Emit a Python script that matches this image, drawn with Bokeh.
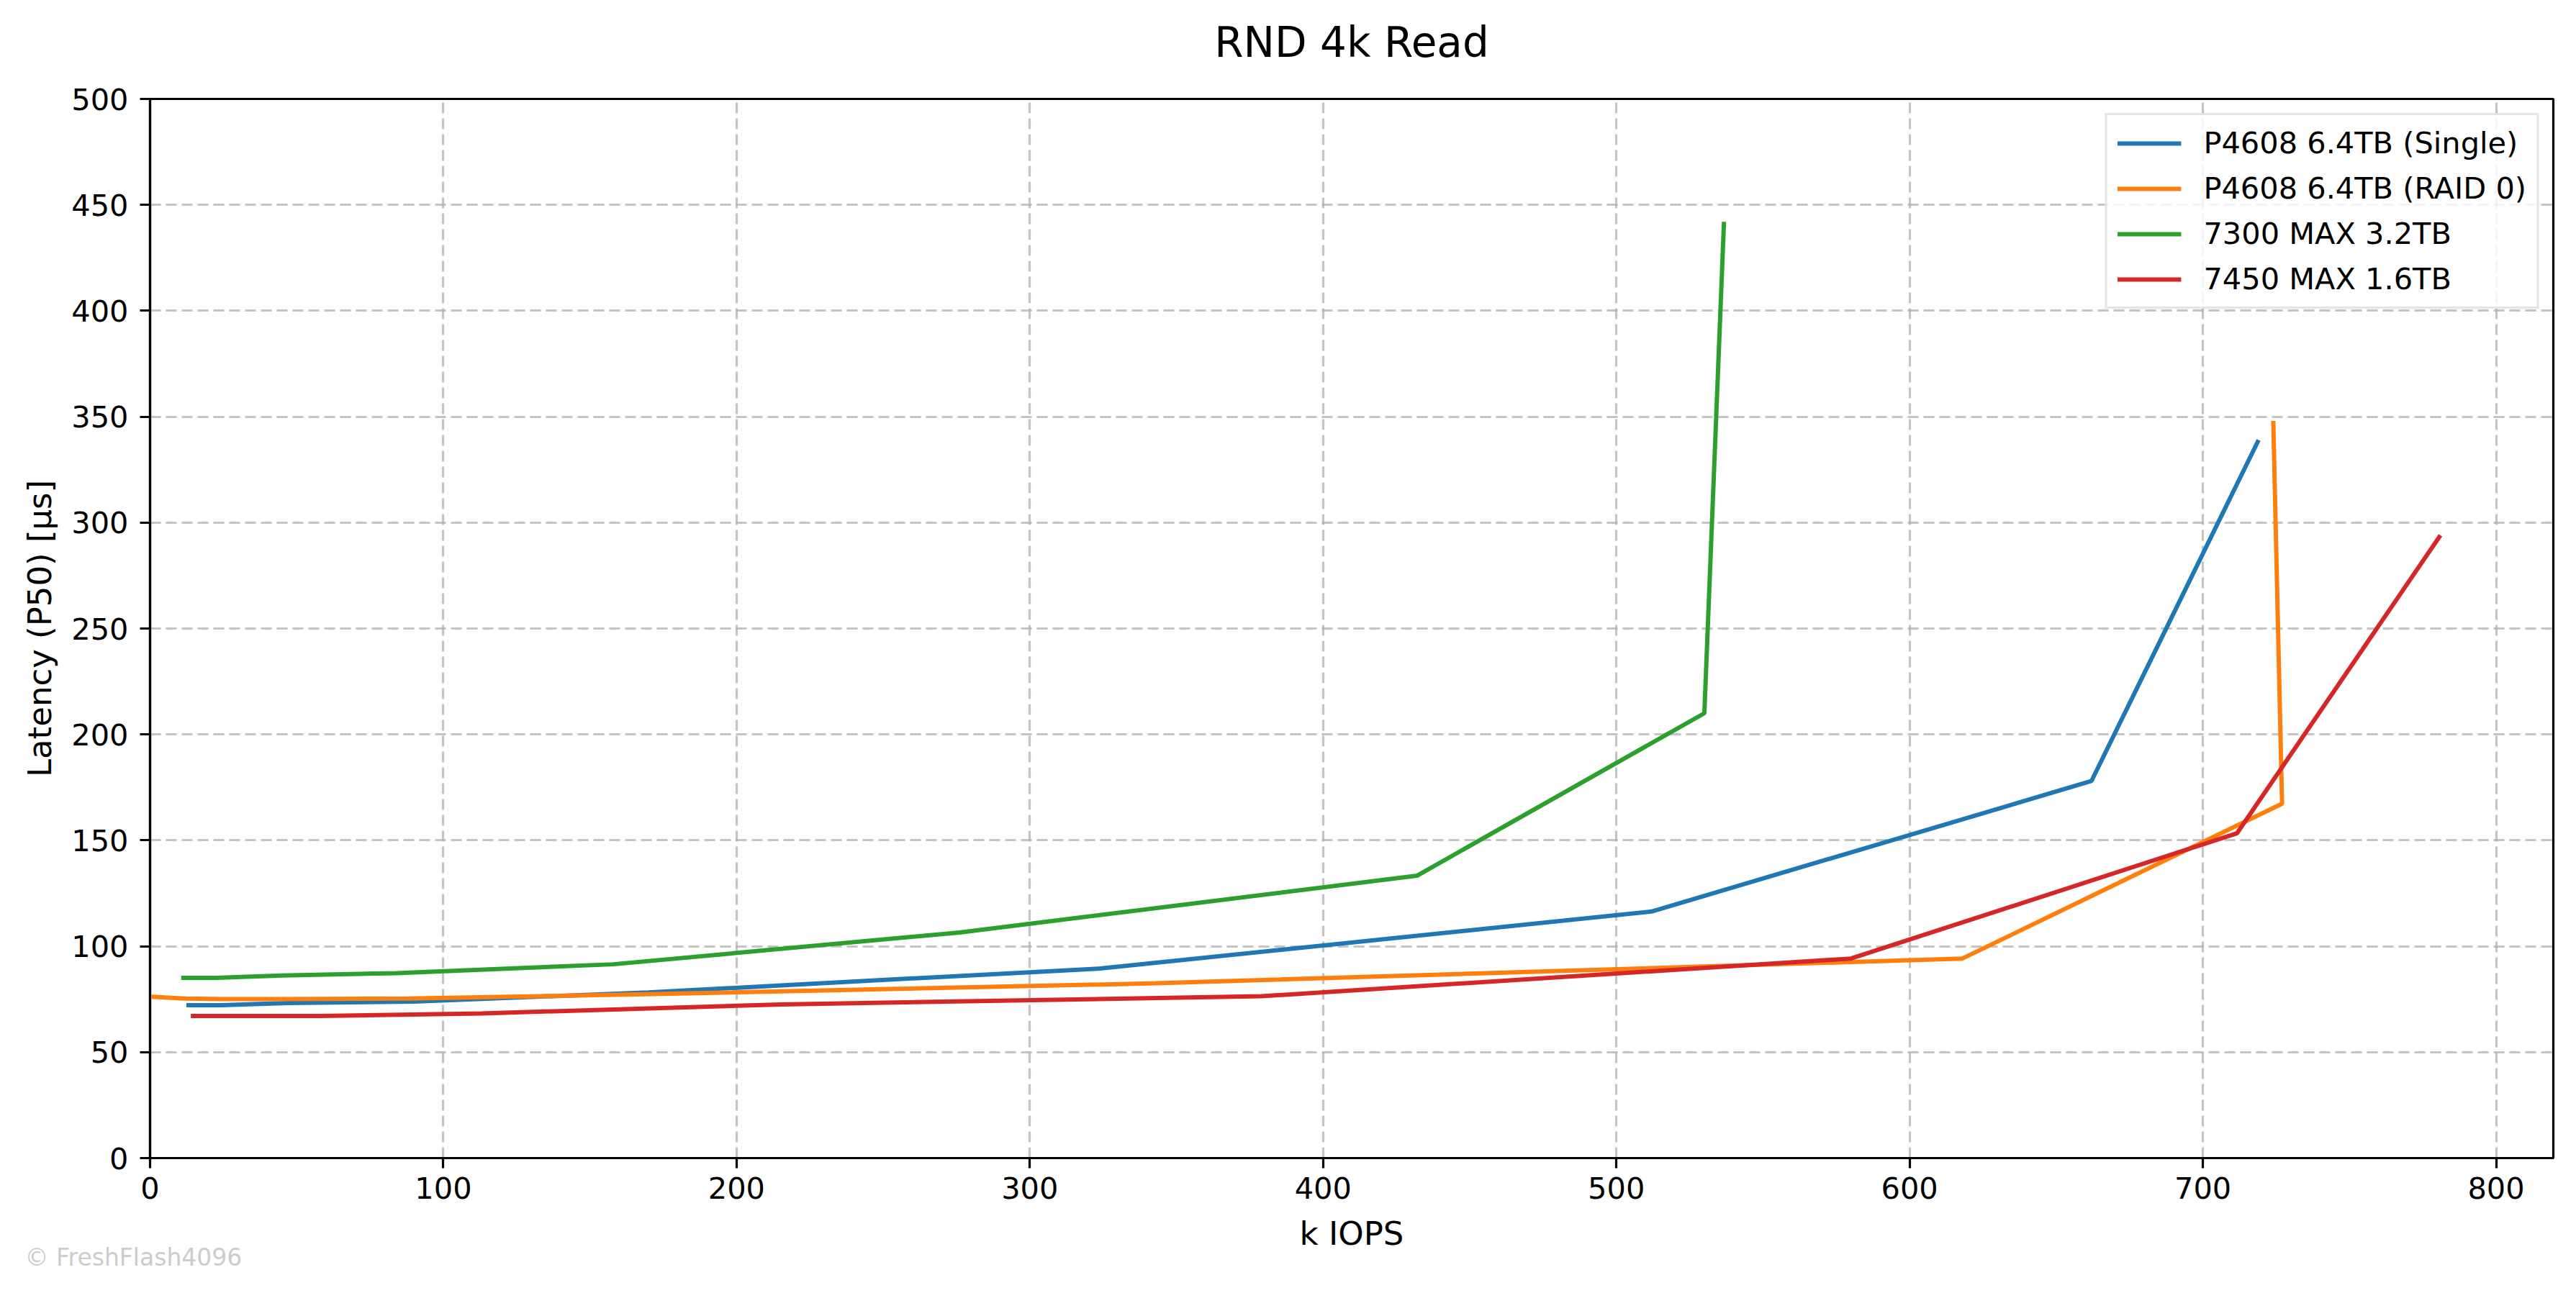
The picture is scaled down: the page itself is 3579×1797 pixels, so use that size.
from bokeh.plotting import figure
from bokeh.models import Range1d, FixedTicker, Title
from bokeh.embed import file_html
from bokeh.resources import INLINE

# ---- data (k IOPS, latency P50 in µs) ----
series_names = ["P4608 6.4TB (Single)", "P4608 6.4TB (RAID 0)", "7300 MAX 3.2TB", "7450 MAX 1.6TB"]
series_colors = ["#1f77b4", "#ff7f0e", "#2ca02c", "#d62728"]

p4608_single_x = [12.4, 24.3, 47, 90, 170, 324, 512, 662, 719]
p4608_single_y = [72.2, 72.2, 73.2, 73.9, 78.2, 89.5, 116.4, 178, 339]

p4608_raid0_x = [0.5, 12.4, 24, 47, 88, 175, 343, 618, 727, 724]
p4608_raid0_y = [76.2, 75.3, 75.1, 75.1, 75.3, 77.5, 82.5, 94.2, 167.3, 348]

m7300_x = [10.6, 22.5, 45, 84, 158, 276, 432, 530, 536.7]
m7300_y = [85.1, 85.1, 86.2, 87.3, 91.5, 106.5, 133.3, 210, 442]

m7450_x = [13.9, 28, 58, 113, 215, 379, 580, 711.6, 781]
m7450_y = [67.1, 67.1, 67.1, 68.3, 72.5, 76.4, 94.2, 153.3, 294]

x_ticks = [0, 100, 200, 300, 400, 500, 600, 700, 800]
y_ticks = [0, 50, 100, 150, 200, 250, 300, 350, 400, 450, 500]

title_text = "RND 4k Read"
x_label = "k IOPS"
y_label = "Latency (P50) [µs]"
watermark = "© FreshFlash4096"

FONT = "DejaVu Sans"

p = figure(width=3563, height=1781, output_backend="svg", toolbar_location=None,
           title_location=None,
           x_range=Range1d(0, 819.5), y_range=Range1d(0, 500),
           min_border_left=208, min_border_right=16, min_border_top=137, min_border_bottom=172,
           background_fill_color="white", border_fill_color="white")

# spacer panel between frame and title, then the title itself
spacer = Title(text=" ", text_font=FONT, text_font_size="10px", standoff=27, text_color="white")
main_title = Title(text=title_text, align="center", text_font=FONT, text_font_size="58px",
                   text_font_style="normal", text_color="black", standoff=10)
p.add_layout(spacer, "above")
p.add_layout(main_title, "above")

xs = [p4608_single_x, p4608_raid0_x, m7300_x, m7450_x]
ys = [p4608_single_y, p4608_raid0_y, m7300_y, m7450_y]
for name, color, x, y in zip(series_names, series_colors, xs, ys):
    p.line(x, y, line_color=color, line_width=6, legend_label=name)

for ax, ticks in ((p.xaxis, x_ticks), (p.yaxis, y_ticks)):
    ax.ticker = FixedTicker(ticks=ticks)
    ax.major_label_text_font = FONT
    ax.major_label_text_font_size = "41.5px"
    ax.major_label_text_color = "black"
    ax.axis_label_text_font = FONT
    ax.axis_label_text_font_size = "45px"
    ax.axis_label_text_font_style = "normal"
    ax.axis_label_text_color = "black"
    ax.axis_line_color = "black"
    ax.axis_line_width = 3.2
    ax.major_tick_line_color = "black"
    ax.major_tick_line_width = 3.2
    ax.major_tick_out = 14
    ax.major_tick_in = 0
    ax.minor_tick_line_color = None

p.xaxis.axis_label = x_label
p.yaxis.axis_label = y_label
p.xaxis.major_label_standoff = 12
p.yaxis.major_label_standoff = 16
p.xaxis.axis_label_standoff = 19
p.yaxis.axis_label_standoff = 14

for g in (p.xgrid, p.ygrid):
    g.grid_line_color = "#b0b0b0"
    g.grid_line_alpha = 0.75
    g.grid_line_width = 3.2
    g.grid_line_dash = "15 7"

p.outline_line_color = "black"
p.outline_line_width = 3.2
p.outline_line_alpha = 1.0

lg = p.legend[0]
lg.location = "top_right"
lg.margin = 20
lg.padding = 14
lg.spacing = 14
lg.glyph_height = 40
lg.glyph_width = 89
lg.label_height = 40
lg.label_standoff = 31
lg.label_text_font = FONT
lg.label_text_font_size = "41.5px"
lg.label_text_color = "black"
lg.border_line_color = "#cccccc"
lg.border_line_width = 3
lg.background_fill_color = "white"
lg.background_fill_alpha = 0.8

# watermark as a panel below the x axis, shifted left of the frame
wm = Title(text=watermark, align="left", offset=-174, standoff=-35, text_font=FONT,
           text_font_size="33px", text_font_style="normal", text_color="#cccccc")
p.add_layout(wm, "below")

open("out.html", "w").write(file_html(p, INLINE))
